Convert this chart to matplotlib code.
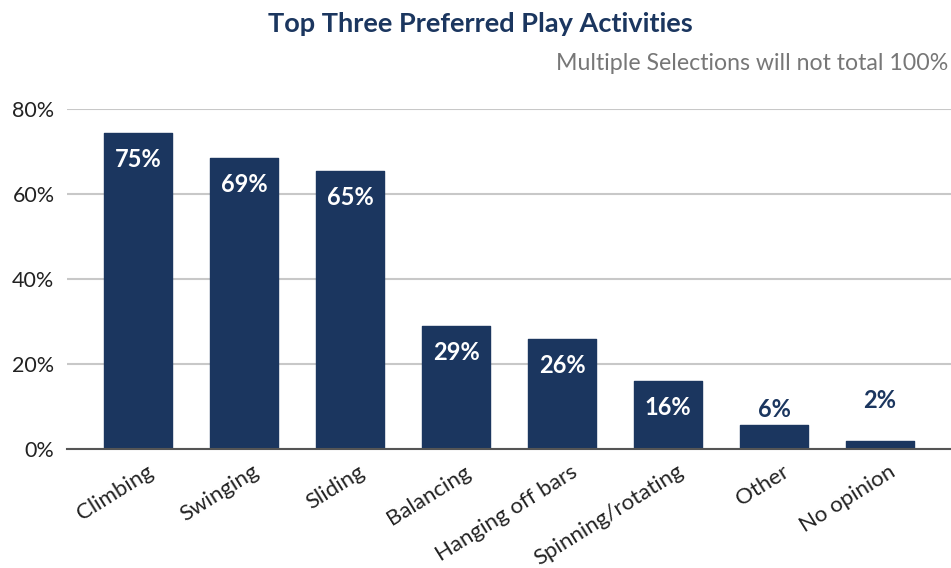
import matplotlib
matplotlib.use("Agg")
import matplotlib.pyplot as plt
from matplotlib.transforms import ScaledTranslation

categories = ["Climbing", "Swinging", "Sliding", "Balancing", "Hanging off bars",
              "Spinning/rotating", "Other", "No opinion"]
values = [74.4, 68.5, 65.4, 28.9, 25.9, 16.0, 5.6, 1.9]
labels = ["75%", "69%", "65%", "29%", "26%", "16%", "6%", "2%"]
yticks = [0, 20, 40, 60, 80]
ytick_labels = ["0%", "20%", "40%", "60%", "80%"]

navy = "#1b365f"
plt.rcParams['font.family'] = ['Lato', 'DejaVu Sans']

fig = plt.figure(figsize=(9.51, 5.68), dpi=100)
ax = fig.add_axes([67/951, (568-449)/568, 1 - 67/951, (449-109)/568])

x = list(range(len(categories)))
ax.bar(x, values, width=0.64, color=navy, zorder=3,
       edgecolor=navy, linewidth=1.0, joinstyle='round')

ax.set_xlim(-0.67, 7.67)
ax.set_ylim(0, 80)
ax.set_yticks(yticks)
ax.set_yticklabels(ytick_labels, fontsize=15.5, color="#222222")
ax.yaxis.grid(True, color="#c8c8c8", linewidth=1.5, zorder=0)
ax.tick_params(axis='y', length=0, pad=9)
ax.tick_params(axis='x', length=0, pad=9)
ax.set_xticks(x)
ax.set_xticklabels(categories, rotation=32, ha='right', rotation_mode='anchor',
                   fontsize=16, color="#222222")
offset = ScaledTranslation(8/100, 0, fig.dpi_scale_trans)
for t in ax.get_xticklabels():
    t.set_transform(t.get_transform() + offset)
for s in ["top", "right", "left"]:
    ax.spines[s].set_visible(False)
ax.spines["bottom"].set_color("#555555")
ax.spines["bottom"].set_linewidth(1.5)
ax.spines["bottom"].set_zorder(4)

for xi, v, lab in zip(x, values, labels):
    if v > 10:
        ax.text(xi, v - 6.3, lab, ha='center', va='center', color='white',
                fontsize=17, fontweight='bold', zorder=5)
    else:
        # small bars: label sits above the bar, never lower than ~11.5%
        ypos = v + 3.6 if v > 4 else 11.5
        ax.text(xi, ypos, lab, ha='center', va='center', color=navy,
                fontsize=17, fontweight='bold', zorder=5)

fig.text(0.505, 0.958, "Top Three Preferred Play Activities", ha='center', va='center',
         fontsize=19.5, fontweight='bold', color=navy)
fig.text(0.997, 0.889, "Multiple Selections will not total 100%", ha='right', va='center',
         fontsize=16.7, color="#777777")

fig.savefig("out.png", dpi=100)
